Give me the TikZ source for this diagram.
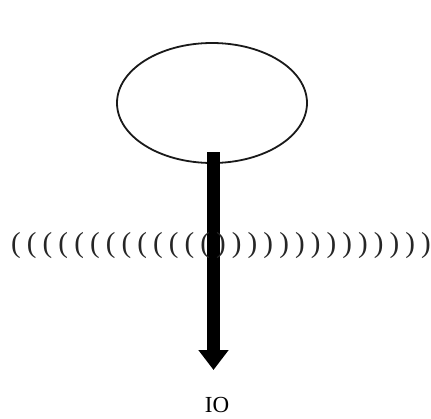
\documentclass[tikz,border=0pt]{standalone}
\usepackage{fontspec}
\setmainfont{Liberation Serif}
\usetikzlibrary{shapes.geometric,arrows.meta}
\begin{document}
\begin{tikzpicture}[x=1pt,y=1pt,
  loop/.style={draw=black!90,line width=1.8pt,ellipse,minimum width=190pt,minimum height=120pt,inner sep=0pt},
  bigarrow/.style={line width=13pt,-{Triangle[width=29pt,length=20pt]},black},
  paren/.style={inner sep=0pt,text=black!85,font=\fontsize{29}{32}\selectfont},
  label/.style={inner sep=0pt,font=\fontsize{23}{26}\selectfont}]
\useasboundingbox (0,0) rectangle (431,-418);
\node[loop] (e) at (212,-103) {};
\coordinate (s) at (213.5,-152);
\coordinate (t) at (213.5,-370);
\draw[bigarrow] (s) -- (t);
\foreach \i in {0,...,12} {
  \node[paren] (p\i) at ({16+15.77*\i},-246) {(};
}
\foreach \i in {13,...,26} {
  \node[paren] (p\i) at ({16+15.77*\i},-246) {)};
}
\node[label] (io) at (217,-405) {IO};
\end{tikzpicture}
\end{document}
